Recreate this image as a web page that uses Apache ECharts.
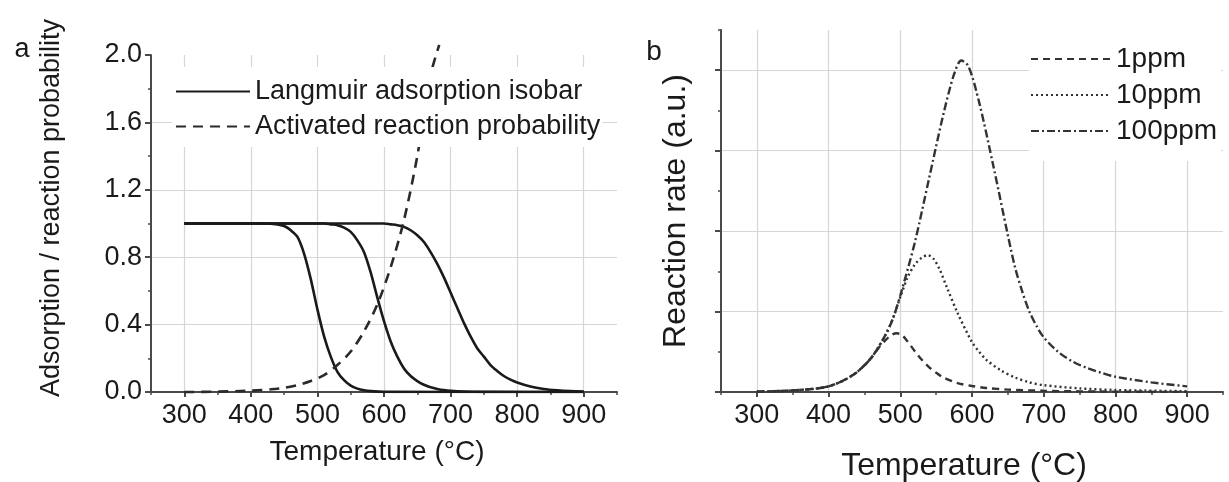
<!DOCTYPE html>
<html>
<head>
<meta charset="utf-8">
<script src="https://cdn.jsdelivr.net/npm/echarts@6/dist/echarts.min.js"></script>
<style>html,body{margin:0;padding:0;background:#fff}#c{width:1229px;height:482px}</style>
</head>
<body>
<div id="c"></div>
<script>
// ---- data ----
const tempTicks = [300, 400, 500, 600, 700, 800, 900];
const rateTicks = [0, 1, 2, 3, 4];

const langmuir1 = [[300,1.0],[420,1.0],[440,0.995],[450,0.985],[460,0.96],[470,0.92],[480,0.82],[490,0.67],[500,0.49],[510,0.33],[520,0.21],[530,0.12],[540,0.07],[550,0.038],[560,0.02],[570,0.01],[580,0.005],[600,0.001],[900,0]];
const langmuir2 = [[300,1.0],[510,1.0],[520,0.995],[530,0.99],[540,0.975],[550,0.95],[560,0.90],[570,0.83],[580,0.71],[590,0.56],[600,0.42],[610,0.30],[620,0.21],[630,0.14],[640,0.095],[650,0.065],[660,0.043],[670,0.028],[680,0.018],[690,0.011],[700,0.007],[720,0.003],[750,0.001],[900,0]];
const langmuir3 = [[300,1.0],[600,1.0],[610,0.995],[620,0.99],[630,0.98],[640,0.96],[650,0.93],[660,0.89],[670,0.83],[680,0.76],[690,0.68],[700,0.59],[710,0.50],[720,0.41],[730,0.33],[740,0.26],[750,0.21],[760,0.16],[770,0.125],[780,0.095],[790,0.073],[800,0.056],[820,0.032],[840,0.018],[860,0.01],[880,0.005],[900,0.002]];
const reactionProb = [[300,0.0],[350,0.002],[400,0.008],[430,0.016],[450,0.025],[470,0.04],[490,0.065],[510,0.10],[530,0.16],[550,0.24],[570,0.36],[590,0.52],[610,0.74],[630,1.02],[650,1.40],[670,1.88],[683,2.06]];

const rate1ppm = [[300,0.005],[340,0.015],[380,0.04],[400,0.07],[420,0.14],[440,0.25],[460,0.43],[470,0.55],[480,0.65],[488,0.71],[495,0.73],[502,0.71],[510,0.63],[520,0.51],[530,0.40],[540,0.31],[550,0.24],[560,0.18],[580,0.11],[600,0.075],[620,0.05],[650,0.03],[700,0.015],[750,0.008],[800,0.004],[900,0.001]];
const rate10ppm = [[300,0.005],[340,0.015],[380,0.04],[400,0.07],[420,0.14],[440,0.25],[460,0.43],[480,0.72],[490,0.92],[500,1.18],[510,1.42],[520,1.58],[530,1.67],[538,1.70],[546,1.66],[555,1.52],[565,1.30],[580,0.98],[600,0.62],[610,0.50],[620,0.40],[640,0.27],[660,0.18],[680,0.12],[700,0.085],[750,0.045],[800,0.025],[900,0.01]];
const rate100ppm = [[300,0.005],[340,0.015],[380,0.04],[400,0.07],[420,0.14],[440,0.25],[460,0.43],[480,0.72],[490,0.92],[500,1.20],[520,1.85],[540,2.65],[560,3.45],[575,3.95],[585,4.12],[595,4.05],[610,3.60],[630,2.80],[650,1.95],[660,1.55],[670,1.25],[680,1.00],[690,0.82],[700,0.68],[720,0.50],[740,0.38],[760,0.30],[780,0.24],[800,0.19],[850,0.12],[900,0.07]];

// ---- styling ----
const FONT = '"Liberation Sans", Arial, Helvetica, sans-serif';
const INK = '#1a1a1a';
const AX = '#4a4a4a';
const GRIDC = '#d6d6d6';

function mainX(gi, fs) {
  return {
    gridIndex: gi, type: 'value', min: 250, max: 950, position: 'bottom',
    axisLine: { show: true, lineStyle: { color: AX, width: 2 } },
    axisTick: { show: true, customValues: tempTicks, length: 5, lineStyle: { color: AX, width: 2 } },
    axisLabel: { customValues: tempTicks, margin: 10, fontSize: fs, color: INK, fontFamily: FONT },
    splitLine: { show: true, lineStyle: { color: GRIDC, width: 1.2 } }
  };
}
function minorX(gi) {
  return {
    gridIndex: gi, type: 'value', min: 250, max: 950, interval: 50, position: 'bottom',
    axisLine: { show: false }, axisLabel: { show: false }, splitLine: { show: false },
    axisTick: { show: true, length: 3, lineStyle: { color: AX, width: 1.5 } }
  };
}

const lineBase = { type: 'line', showSymbol: false, symbol: 'none', smooth: 0.3, animation: false, z: 2 };

const option = {
  animation: false,
  backgroundColor: '#fff',
  grid: [
    { left: 151, top: 55, width: 466, height: 337 },
    { left: 721, top: 30, width: 502, height: 362 }
  ],
  xAxis: [ mainX(0, 27), minorX(0), mainX(1, 27), minorX(1) ],
  yAxis: [
    {
      gridIndex: 0, type: 'value', min: 0, max: 2, interval: 0.4, position: 'left',
      axisLine: { show: true, lineStyle: { color: AX, width: 2 } },
      axisTick: { show: true, length: 6, lineStyle: { color: AX, width: 2 } },
      minorTick: { show: true, splitNumber: 2, length: 3, lineStyle: { color: AX, width: 1.5 } },
      axisLabel: { margin: 9, fontSize: 27, color: INK, fontFamily: FONT, formatter: v => v.toFixed(1) },
      splitLine: { show: true, showMaxLine: false, lineStyle: { color: GRIDC, width: 1.2 } }
    },
    {
      gridIndex: 1, type: 'value', min: 0, max: 4.5, position: 'left',
      axisLine: { show: true, lineStyle: { color: AX, width: 2 } },
      axisTick: { show: true, customValues: rateTicks, length: 6, lineStyle: { color: AX, width: 2 } },
      axisLabel: { show: false, customValues: rateTicks },
      splitLine: { show: true, lineStyle: { color: GRIDC, width: 1.2 } }
    },
    {
      gridIndex: 1, type: 'value', min: 0, max: 4.5, interval: 0.5, position: 'left',
      axisLine: { show: false }, axisLabel: { show: false }, splitLine: { show: false },
      axisTick: { show: true, length: 3, lineStyle: { color: AX, width: 1.5 } }
    }
  ],
  legend: [
    {
      data: ['Langmuir adsorption isobar', 'Activated reaction probability'],
      orient: 'vertical', left: 172, top: 67, padding: [11, 2, 7, 3], zlevel: 1, z: 20,
      itemWidth: 74, itemHeight: 14, itemGap: 8, backgroundColor: '#fff', selectedMode: false,
      itemStyle: { opacity: 0 },
      textStyle: { fontSize: 27, lineHeight: 27, color: INK, fontFamily: FONT }
    },
    {
      data: ['1ppm', '10ppm', '100ppm'],
      orient: 'vertical', left: 1029, top: 30, padding: [15, 4, 16, 1], zlevel: 1, z: 20,
      itemWidth: 80, itemHeight: 14, itemGap: 8, backgroundColor: '#fff', selectedMode: false,
      itemStyle: { opacity: 0 },
      textStyle: { fontSize: 28, lineHeight: 28, color: INK, fontFamily: FONT }
    }
  ],
  graphic: [
    { type: 'text', x: 22, y: 50, style: { text: 'a', font: '27px ' + FONT, fill: INK, align: 'center', verticalAlign: 'middle' } },
    { type: 'text', x: 654, y: 52, style: { text: 'b', font: '28px ' + FONT, fill: INK, align: 'center', verticalAlign: 'middle' } },
    { type: 'text', x: 377, y: 452, style: { text: 'Temperature (°C)', font: '28px ' + FONT, fill: INK, align: 'center', verticalAlign: 'middle' } },
    { type: 'text', x: 964, y: 466, style: { text: 'Temperature (°C)', font: '32px ' + FONT, fill: INK, align: 'center', verticalAlign: 'middle' } },
    { type: 'text', x: 52, y: 208, rotation: Math.PI / 2, style: { text: 'Adsorption / reaction probability', font: '27px ' + FONT, fill: INK, align: 'center', verticalAlign: 'middle' } },
    { type: 'text', x: 676, y: 211, rotation: Math.PI / 2, style: { text: 'Reaction rate (a.u.)', font: '32px ' + FONT, fill: INK, align: 'center', verticalAlign: 'middle' } }
  ],
  series: [
    Object.assign({}, lineBase, { name: 'Langmuir adsorption isobar', xAxisIndex: 0, yAxisIndex: 0, data: langmuir1, lineStyle: { color: INK, width: 2.6, type: 'solid' }, itemStyle: { color: INK } }),
    Object.assign({}, lineBase, { name: 'Langmuir adsorption isobar', xAxisIndex: 0, yAxisIndex: 0, data: langmuir2, lineStyle: { color: INK, width: 2.6, type: 'solid' }, itemStyle: { color: INK } }),
    Object.assign({}, lineBase, { name: 'Langmuir adsorption isobar', xAxisIndex: 0, yAxisIndex: 0, data: langmuir3, lineStyle: { color: INK, width: 2.6, type: 'solid' }, itemStyle: { color: INK } }),
    Object.assign({}, lineBase, { name: 'Activated reaction probability', xAxisIndex: 0, yAxisIndex: 0, clip: false, data: reactionProb, lineStyle: { color: '#2a2a2a', width: 2.6, type: [10, 7] }, itemStyle: { color: '#2a2a2a' } }),
    Object.assign({}, lineBase, { name: '1ppm', xAxisIndex: 2, yAxisIndex: 1, data: rate1ppm, lineStyle: { color: '#333', width: 2.4, type: [7, 5] }, itemStyle: { color: '#333' } }),
    Object.assign({}, lineBase, { name: '10ppm', xAxisIndex: 2, yAxisIndex: 1, data: rate10ppm, lineStyle: { color: '#333', width: 2.4, type: [2, 3] }, itemStyle: { color: '#333' } }),
    Object.assign({}, lineBase, { name: '100ppm', xAxisIndex: 2, yAxisIndex: 1, data: rate100ppm, lineStyle: { color: '#333', width: 2.4, type: [8, 3, 2, 3] }, itemStyle: { color: '#333' } })
  ]
};

const chart = echarts.init(document.getElementById('c'), null, { renderer: 'canvas' });
chart.setOption(option);
</script>
</body>
</html>
